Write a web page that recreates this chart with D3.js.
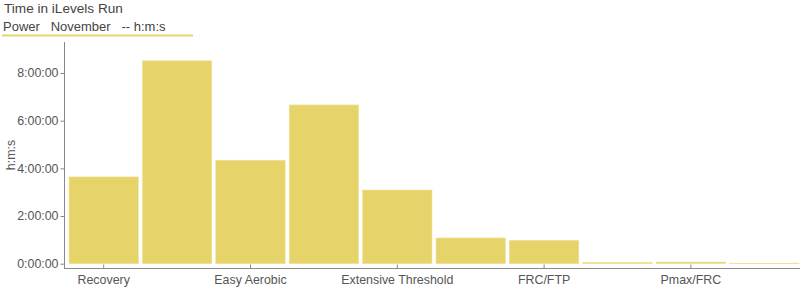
<!DOCTYPE html>
<html>
<head>
<meta charset="utf-8">
<script src="https://cdn.jsdelivr.net/npm/d3@7"></script>
<style>
body { margin:0; background:#fff; }
svg text { font-family: "Liberation Sans", Arial, sans-serif; }
</style>
</head>
<body>
<div id="chart"></div>
<script>
// iLevels for run, time in hours
var categories = ["Recovery", "Endurance", "Easy Aerobic", "Hard Aerobic", "Extensive Threshold",
	"Intensive Threshold", "FRC/FTP", "FRC", "Pmax/FRC", "Pmax"];
var hours = [3.64, 8.51, 4.34, 6.66, 3.09, 1.08, 0.98, 0.06, 0.07, 0.02];
var tickHours = [0, 2, 4, 6, 8];
var shownLabels = ["Recovery", "Easy Aerobic", "Extensive Threshold", "FRC/FTP", "Pmax/FRC"];

var width = 800, height = 290;
var barColor = "#e6d46a";
var textColor = "#555";
var axisColor = "#888";

function fmt(h) {
	var s = Math.round(h * 3600);
	var hh = Math.floor(s / 3600);
	var mm = Math.floor((s % 3600) / 60);
	var ss = s % 60;
	return hh + ":" + (mm < 10 ? "0" : "") + mm + ":" + (ss < 10 ? "0" : "") + ss;
}

var svg = d3.select("#chart").append("svg")
	.attr("width", width)
	.attr("height", height);

var x = d3.scaleBand()
	.domain(categories)
	.range([67, 801])
	.paddingInner(0.055)
	.paddingOuter(0.0275);

var y = d3.scaleLinear()
	.domain([0, 9.3])
	.range([263.7, 42]);

// bars
svg.append("g").selectAll("rect")
	.data(hours)
	.enter().append("rect")
	.attr("x", function (d, i) { return x(categories[i]); })
	.attr("y", function (d) { return y(d); })
	.attr("width", x.bandwidth())
	.attr("height", function (d) { return y(0) - y(d); })
	.attr("fill", barColor)
	.attr("stroke", "#efe19a")
	.attr("stroke-width", 0.6);

// y axis
var yAxis = svg.append("g")
	.attr("transform", "translate(64.5,0)")
	.call(d3.axisLeft(y).tickValues(tickHours).tickFormat(fmt).tickSize(4).tickPadding(2));
yAxis.select(".domain").remove();
yAxis.selectAll("line").attr("stroke", axisColor);
yAxis.selectAll("text").attr("fill", textColor).style("font-size", "12.4px");
svg.append("line")
	.attr("x1", 64.5).attr("x2", 64.5)
	.attr("y1", 42).attr("y2", 268.5)
	.attr("stroke", axisColor);

// x axis
var xAxis = svg.append("g")
	.attr("transform", "translate(0,268.5)")
	.call(d3.axisBottom(x).tickSize(4).tickPadding(3)
		.tickFormat(function (d) { return shownLabels.indexOf(d) >= 0 ? d : ""; }));
xAxis.select(".domain").remove();
xAxis.selectAll(".tick").filter(function (d) { return shownLabels.indexOf(d) < 0; }).remove();
xAxis.selectAll("line").attr("stroke", axisColor).attr("y1", -4).attr("y2", 0);
xAxis.selectAll("text").attr("fill", textColor).style("font-size", "12.4px");
svg.append("line")
	.attr("x1", 64).attr("x2", 800)
	.attr("y1", 268.5).attr("y2", 268.5)
	.attr("stroke", axisColor);

// y title
svg.append("text")
	.attr("transform", "translate(15,155) rotate(-90)")
	.attr("text-anchor", "middle")
	.attr("fill", textColor)
	.style("font-size", "12.4px")
	.text("h:m:s");

// title and legend
svg.append("text")
	.attr("x", 4).attr("y", 13)
	.attr("fill", "#444")
	.style("font-size", "13.6px")
	.text("Time in iLevels Run");
svg.append("text")
	.attr("x", 3).attr("y", 31)
	.attr("fill", "#444")
	.style("font-size", "13px")
	.attr("xml:space", "preserve")
	.text("Power   November   -- h:m:s");
svg.append("line")
	.attr("x1", 2).attr("x2", 193)
	.attr("y1", 35.5).attr("y2", 35.5)
	.attr("stroke", barColor)
	.attr("stroke-width", 2);
</script>
</body>
</html>
